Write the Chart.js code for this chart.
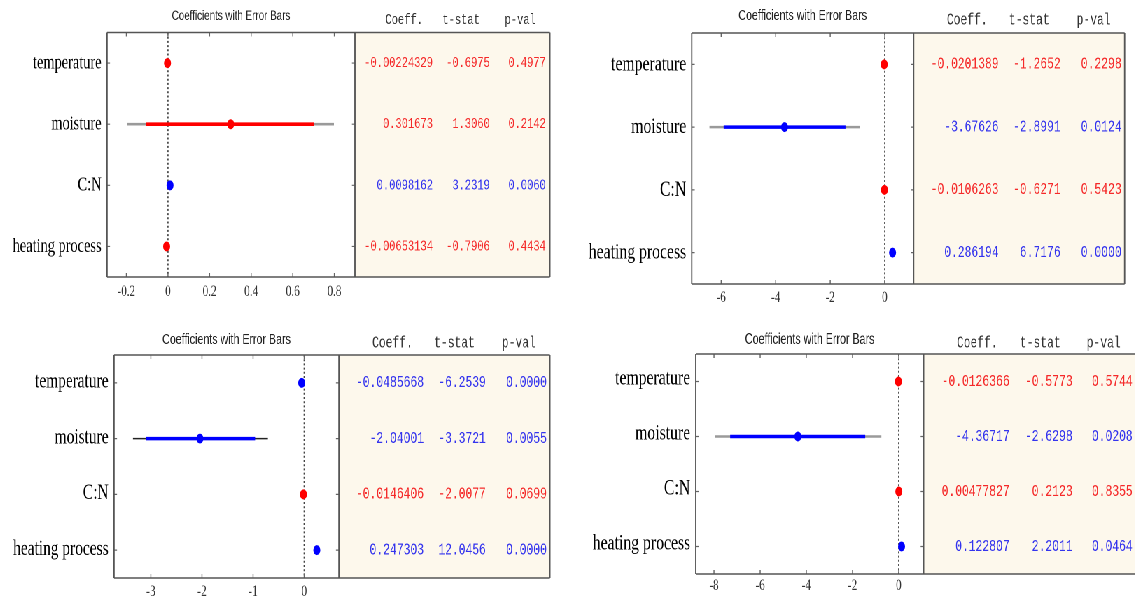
<!DOCTYPE html>
<html><head><meta charset="utf-8">
<script src="https://cdn.jsdelivr.net/npm/chart.js@4.4.0/dist/chart.umd.min.js"></script>
<style>
html,body{margin:0;padding:0;background:#fff;overflow:hidden;width:1135px;height:597px;}
#squeeze{position:absolute;left:0;top:0;width:1622px;height:597px;transform:scaleX(0.7);transform-origin:0 0;}
#squeeze canvas{position:absolute;}
</style></head><body>
<div id="squeeze">
<canvas id="cA"></canvas><canvas id="cB"></canvas><canvas id="cC"></canvas><canvas id="cD"></canvas>
</div>
<script>
// ---------- data ----------
const rowLabels = ['temperature', 'moisture', 'C:N', 'heating process'];
const tableHeaders = ['Coeff.', 't-stat', 'p-val'];
const titleText = 'Coefficients with Error Bars';

// panel A (top-left)
const coefA = [-0.00224329, 0.301673, 0.0098162, -0.00653134];
const tStatA = [-0.6975, 1.3060, 3.2319, -0.7906];
const pValA = [0.4977, 0.2142, 0.0060, 0.4434];
const inModelA = [false, false, true, false];
const outerLoA = [null, -0.198, null, null];
const outerHiA = [null, 0.798, null, null];
const innerLoA = [null, -0.105, null, null];
const innerHiA = [null, 0.703, null, null];
const xRangeA = [-0.293, 0.899];
const xTicksA = [-0.2, 0, 0.2, 0.4, 0.6, 0.8];

// panel B (top-right)
const coefB = [-0.0201389, -3.67626, -0.0106263, 0.286194];
const tStatB = [-1.2652, -2.8991, -0.6271, 6.7176];
const pValB = [0.2298, 0.0124, 0.5423, 0.0000];
const inModelB = [false, true, false, true];
const outerLoB = [null, -6.43, null, null];
const outerHiB = [null, -0.92, null, null];
const innerLoB = [null, -5.91, null, null];
const innerHiB = [null, -1.44, null, null];
const xRangeB = [-7.08, 1.06];
const xTicksB = [-6, -4, -2, 0];

// panel C (bottom-left)
const coefC = [-0.0485668, -2.04001, -0.0146406, 0.247303];
const tStatC = [-6.2539, -3.3721, -2.0077, 12.0456];
const pValC = [0.0000, 0.0055, 0.0699, 0.0000];
const inModelC = [true, true, false, true];
const outerLoC = [null, -3.35, null, null];
const outerHiC = [null, -0.71, null, null];
const innerLoC = [null, -3.10, null, null];
const innerHiC = [null, -0.96, null, null];
const xRangeC = [-3.72, 0.68];
const xTicksC = [-3, -2, -1, 0];

// panel D (bottom-right)
const coefD = [-0.0126366, -4.36717, 0.00477827, 0.122807];
const tStatD = [-0.5773, -2.6298, 0.2123, 2.2011];
const pValD = [0.5744, 0.0208, 0.8355, 0.0464];
const inModelD = [false, true, false, true];
const outerLoD = [null, -7.97, null, null];
const outerHiD = [null, -0.75, null, null];
const innerLoD = [null, -7.30, null, null];
const innerHiD = [null, -1.45, null, null];
const xRangeD = [-8.79, 1.08];
const xTicksD = [-8, -6, -4, -2, 0];

// ---------- styling / layout ----------
const S = 0.7;                 // horizontal squeeze of the whole picture
const U = v => v / S;          // squeezed px -> canvas px
const RED = '#ff0000', BLUE = '#0000ff';
const RED_TXT = '#f52a2a', BLUE_TXT = '#3434ee';
const SERIF = '"Liberation Serif", "Times New Roman", serif';
const MONO = '"Liberation Mono", "Courier New", monospace';
const SANS = '"Liberation Sans", Arial, sans-serif';
const XH = 30;

const coefPanelPlugin = {
  id: 'coefPanel',
  beforeDatasetsDraw(chart, args, o) {
    const {ctx, chartArea: a, scales: {x}} = chart;
    ctx.save();
    ctx.fillStyle = '#fdf8ec';
    ctx.fillRect(a.right, a.top, o.tableW, a.bottom - a.top);
    const x0 = x.getPixelForValue(0);
    ctx.strokeStyle = '#444'; ctx.lineWidth = 1.7; ctx.setLineDash([2, 2.2]);
    ctx.beginPath(); ctx.moveTo(x0, a.top); ctx.lineTo(x0, a.bottom); ctx.stroke();
    ctx.restore();
  },
  afterDraw(chart, args, o) {
    const {ctx, chartArea: a, scales: {x, y}} = chart;
    ctx.save();
    // ticks
    ctx.strokeStyle = '#666'; ctx.lineWidth = U(1);
    x.ticks.forEach(t => {
      const px = x.getPixelForValue(t.value);
      ctx.beginPath();
      ctx.moveTo(px, a.top); ctx.lineTo(px, a.top + 4);
      ctx.moveTo(px, a.bottom); ctx.lineTo(px, a.bottom - 4);
      ctx.stroke();
    });
    ctx.lineWidth = 1.2;
    rowLabels.forEach((lab, i) => {
      const py = y.getPixelForValue(i);
      ctx.beginPath();
      ctx.moveTo(a.left, py); ctx.lineTo(a.left + U(3), py);
      ctx.moveTo(a.right - U(3), py); ctx.lineTo(a.right, py);
      ctx.stroke();
    });
    // box
    ctx.strokeStyle = '#555';
    ctx.lineWidth = 1.5;
    ctx.beginPath();
    ctx.moveTo(a.left, a.top); ctx.lineTo(a.right + o.tableW, a.top);
    ctx.moveTo(a.left, a.bottom); ctx.lineTo(a.right + o.tableW, a.bottom);
    ctx.stroke();
    ctx.lineWidth = U(1.3);
    ctx.beginPath();
    ctx.moveTo(a.left, a.top); ctx.lineTo(a.left, a.bottom);
    ctx.moveTo(a.right, a.top); ctx.lineTo(a.right, a.bottom);
    ctx.moveTo(a.right + o.tableW, a.top); ctx.lineTo(a.right + o.tableW, a.bottom);
    ctx.stroke();
    // title
    ctx.fillStyle = '#222';
    ctx.font = `${o.titleSize}px ${SANS}`;
    ctx.textAlign = 'center'; ctx.textBaseline = 'middle';
    ctx.fillText(titleText, (a.left + a.right) / 2, o.titleY);
    // headers
    ctx.font = `${o.monoSize}px ${MONO}`;
    ctx.textAlign = 'right';
    ctx.fillStyle = '#333';
    tableHeaders.forEach((h, k) => ctx.fillText(h, a.right + U(o.colR[k] - o.headShift), o.headY));
    // table rows
    rowLabels.forEach((lab, i) => {
      const py = y.getPixelForValue(i);
      ctx.fillStyle = o.inModel[i] ? BLUE_TXT : RED_TXT;
      const cells = [String(o.coef[i]), o.tStat[i].toFixed(4), o.pVal[i].toFixed(4)];
      cells.forEach((c, k) => ctx.fillText(c, a.right + U(o.colR[k]), py));
    });
    ctx.restore();
  }
};

function makePanel(id, L, coef, tStat, pVal, inModel, oLo, oHi, iLo, iHi, xRange, xTicks) {
  const cv = document.getElementById(id);
  const W = Math.round(U(L.cw));
  cv.width = W; cv.height = L.ch;
  cv.style.left = U(L.cx) + 'px'; cv.style.top = L.cy + 'px';
  cv.style.width = W + 'px'; cv.style.height = L.ch + 'px';
  const datasets = [{
    data: coef.map((v, i) => ({x: v, y: rowLabels[i]})),
    pointRadius: 5, pointHoverRadius: 5, pointBorderWidth: 0,
    pointBackgroundColor: inModel.map(m => m ? BLUE : RED),
    showLine: false, order: 0
  }];
  rowLabels.forEach((lab, i) => {
    if (iLo[i] !== null) datasets.push({
      data: [{x: iLo[i], y: lab}, {x: iHi[i], y: lab}], showLine: true,
      borderColor: inModel[i] ? BLUE : RED, borderWidth: 3.6, pointRadius: 0, order: 1
    });
    if (oLo[i] !== null) datasets.push({
      data: [{x: oLo[i], y: lab}, {x: oHi[i], y: lab}], showLine: true,
      borderColor: L.outerColor, borderWidth: L.outerWidth, pointRadius: 0, order: 2
    });
  });
  new Chart(cv, {
    type: 'scatter',
    data: {datasets},
    plugins: [coefPanelPlugin],
    options: {
      responsive: false, animation: false, devicePixelRatio: 2, events: [],
      layout: {padding: {left: 0, right: U(L.cx + L.cw - L.div), top: L.boxT - L.cy,
                         bottom: L.ch - (L.boxB - L.cy) - XH}},
      plugins: {
        legend: {display: false}, tooltip: {enabled: false},
        coefPanel: {
          tableW: U(L.tabR - L.div), titleY: L.titleY - L.cy, headY: L.headY - L.cy,
          colR: L.colR, headShift: L.headShift, titleSize: L.titleSize, monoSize: L.monoSize,
          coef, tStat, pVal, inModel
        }
      },
      scales: {
        x: {
          type: 'linear', min: xRange[0], max: xRange[1],
          afterBuildTicks: s => { s.ticks = xTicks.map(v => ({value: v})); },
          afterFit: s => { s.height = XH; },
          grid: {display: false, drawTicks: false}, border: {display: false},
          ticks: {font: {family: SERIF, size: 16}, color: '#333', padding: L.xPad,
                  maxRotation: 0, autoSkip: false}
        },
        y: {
          type: 'category', labels: rowLabels, offset: true,
          afterFit: s => { s.width = U(L.boxL - L.cx); },
          grid: {display: false, drawTicks: false}, border: {display: false},
          ticks: {font: {family: SERIF, size: L.serifSize}, color: '#000', padding: U(5.5),
                  labelOffset: L.yLabOff, autoSkip: false}
        }
      }
    }
  });
}

const layoutA = {cx: 0, cy: 0, cw: 565, ch: 316, boxL: 107, boxT: 32.5, boxB: 277, div: 355, tabR: 550,
  titleY: 16, headY: 20, colR: [78, 135, 191], headShift: 10, serifSize: 20.5, monoSize: 14.9,
  titleSize: 14, xPad: 5, yLabOff: 0, outerColor: '#9a9a9a', outerWidth: 2.6};
const layoutB = {cx: 570, cy: 0, cw: 565, ch: 316, boxL: 692, boxT: 33, boxB: 284, div: 914, tabR: 1125,
  titleY: 16, headY: 20, colR: [85, 147, 208], headShift: 11, serifSize: 22.5, monoSize: 16.2,
  titleSize: 15.2, xPad: 4, yLabOff: 0, outerColor: '#9a9a9a', outerWidth: 2.6};
const layoutC = {cx: 0, cy: 310, cw: 565, ch: 300, boxL: 114, boxT: 355, boxB: 578, div: 339, tabR: 550,
  titleY: 340, headY: 343, colR: [85, 147, 208], headShift: 11, serifSize: 22, monoSize: 16.2,
  titleSize: 15.2, xPad: 4, yLabOff: -1, outerColor: '#222', outerWidth: 1.6};
const layoutD = {cx: 570, cy: 310, cw: 565, ch: 300, boxL: 696, boxT: 354, boxB: 574, div: 924, tabR: 1136,
  titleY: 340, headY: 343, colR: [86, 149, 209], headShift: 12, serifSize: 22.5, monoSize: 16.2,
  titleSize: 15.3, xPad: 2, yLabOff: -3, outerColor: '#9a9a9a', outerWidth: 2.6};

makePanel('cA', layoutA, coefA, tStatA, pValA, inModelA, outerLoA, outerHiA, innerLoA, innerHiA, xRangeA, xTicksA);
makePanel('cB', layoutB, coefB, tStatB, pValB, inModelB, outerLoB, outerHiB, innerLoB, innerHiB, xRangeB, xTicksB);
makePanel('cC', layoutC, coefC, tStatC, pValC, inModelC, outerLoC, outerHiC, innerLoC, innerHiC, xRangeC, xTicksC);
makePanel('cD', layoutD, coefD, tStatD, pValD, inModelD, outerLoD, outerHiD, innerLoD, innerHiD, xRangeD, xTicksD);
</script>
</body></html>
